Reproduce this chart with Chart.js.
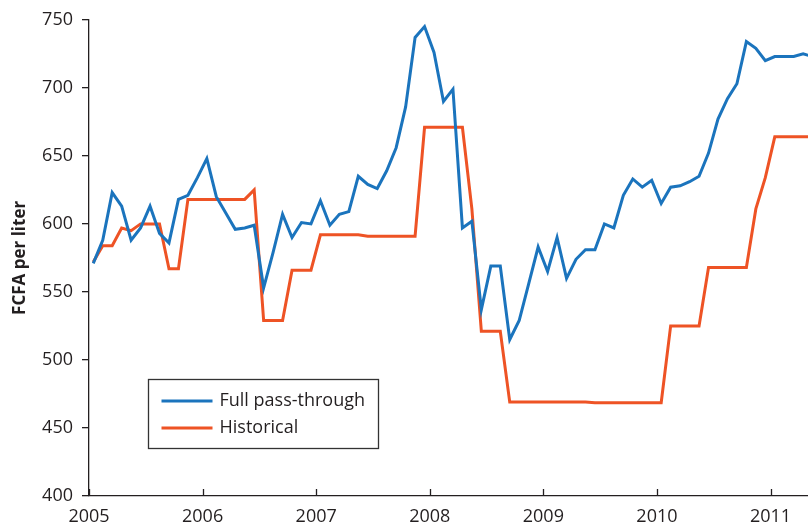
<!DOCTYPE html>
<html>
<head>
<meta charset="utf-8">
<script src="https://cdn.jsdelivr.net/npm/chart.js@4/dist/chart.umd.min.js"></script>
<style>
  html, body { margin: 0; padding: 0; background: #ffffff; }
  #wrap { width: 808px; height: 529px; position: relative; }
</style>
</head>
<body>
<div id="wrap"><canvas id="chart" width="808" height="529"></canvas></div>
<script>
// Monthly pump price of fuel, FCFA per liter, January 2005 onward
const startYear = 2005;

const fullPassThrough = [
  571, 588, 623, 613, 588, 597, 613, 593, 586, 618, 621, 634,
  648, 620, 608, 596, 597, 599, 553, 579, 607, 590, 601, 600,
  617, 599, 607, 609, 635, 629, 626, 639, 656, 686, 737, 745,
  726, 690, 699, 597, 602, 537, 569, 569, 515, 529, 556, 583,
  565, 590, 560, 574, 581, 581, 600, 597, 621, 633, 627, 632,
  615, 627, 628, 631, 635, 652, 677, 692, 703, 734, 729, 720,
  723, 723, 723, 725, 723
];

const historical = [
  572, 584, 584, 597, 595, 600, 600, 600, 567, 567, 618, 618,
  618, 618, 618, 618, 618, 625, 529, 529, 529, 566, 566, 566,
  592, 592, 592, 592, 592, 591, 591, 591, 591, 591, 591, 671,
  671, 671, 671, 671, 611, 521, 521, 521, 469, 469, 469, 469,
  469, 469, 469, 469, 469, 468.5, 468.5, 468.5, 468.5, 468.5, 468.5, 468.5,
  468.5, 525, 525, 525, 525, 568, 568, 568, 568, 568, 611, 634,
  664, 664, 664, 664, 664
];

const seriesNames = ['Full pass-through', 'Historical'];
const seriesColors = ['#1b74bd', '#ee5325'];
const yearTicks = [2005, 2006, 2007, 2008, 2009, 2010, 2011];
const yTicks = [400, 450, 500, 550, 600, 650, 700, 750];

// Each observation sits at the middle of its month on a decimal-year axis
const monthPos = fullPassThrough.map((_, i) => startYear + (i + 0.45) / 12);

const toPoints = values => values.map((v, i) => ({ x: monthPos[i], y: v }));

const axisColor = '#231f20';
const textColor = '#231f20';
const fontFamily = '"Open Sans", "Noto Sans", sans-serif';

// Upward tick marks on the time axis
const innerXTicks = {
  id: 'innerXTicks',
  afterDraw(chart) {
    const x = chart.scales.x;
    const ctx = chart.ctx;
    ctx.save();
    ctx.strokeStyle = axisColor;
    ctx.lineWidth = 1.3;
    ctx.beginPath();
    yearTicks.forEach(v => {
      const px = Math.round(x.getPixelForValue(v)) + 0.5;
      ctx.moveTo(px, x.top);
      ctx.lineTo(px, x.top - 7);
    });
    ctx.stroke();
    ctx.restore();
  }
};

// Boxed legend inside the plot area
const boxedLegend = {
  id: 'boxedLegend',
  afterDraw(chart) {
    const ctx = chart.ctx;
    const x = chart.scales.x, y = chart.scales.y;
    const left = 148.5, top = 379.5, w = 230, h = 69;
    ctx.save();
    ctx.strokeStyle = '#333333';
    ctx.lineWidth = 1.3;
    ctx.strokeRect(left, top, w, h);
    ctx.font = '18px ' + fontFamily;
    ctx.textBaseline = 'middle';
    ctx.fillStyle = textColor;
    chart.data.datasets.forEach((ds, i) => {
      const cy = top + 21.5 + i * 27;
      ctx.strokeStyle = ds.borderColor;
      ctx.lineWidth = 3;
      ctx.beginPath();
      ctx.moveTo(left + 13, cy);
      ctx.lineTo(left + 64, cy);
      ctx.stroke();
      ctx.fillText(ds.label, left + 71, cy);
    });
    ctx.restore();
  }
};

new Chart(document.getElementById('chart'), {
  type: 'line',
  data: {
    datasets: [
      {
        label: seriesNames[0],
        data: toPoints(fullPassThrough),
        borderColor: seriesColors[0],
        borderWidth: 3,
        pointRadius: 0,
        tension: 0,
        fill: false
      },
      {
        label: seriesNames[1],
        data: toPoints(historical),
        borderColor: seriesColors[1],
        borderWidth: 3,
        pointRadius: 0,
        tension: 0,
        fill: false
      }
    ]
  },
  options: {
    responsive: false,
    animation: false,
    parsing: false,
    layout: { padding: { top: 17, right: 0, bottom: 0, left: 0 } },
    plugins: {
      legend: { display: false },
      tooltip: { enabled: false }
    },
    scales: {
      x: {
        type: 'linear',
        min: 2005,
        max: 2011.33,
        afterBuildTicks: s => { s.ticks = yearTicks.map(v => ({ value: v })); },
        afterFit: s => { s.height = 33; },
        grid: { display: true, drawOnChartArea: false, drawTicks: false, color: axisColor },
        border: { display: true, color: axisColor, width: 1.3 },
        ticks: {
          callback: v => String(v),
          color: textColor,
          padding: 10,
          maxRotation: 0,
          font: { family: fontFamily, size: 18 }
        }
      },
      y: {
        type: 'linear',
        min: 400,
        max: 750,
        afterBuildTicks: s => { s.ticks = yTicks.map(v => ({ value: v })); },
        afterFit: s => { s.width = 89; },
        grid: { display: true, drawOnChartArea: false, drawTicks: true, tickLength: 7, color: axisColor, lineWidth: 1.3 },
        border: { display: true, color: axisColor, width: 1.3 },
        ticks: {
          callback: v => String(v),
          color: textColor,
          padding: 9,
          font: { family: fontFamily, size: 18 }
        },
        title: {
          display: true,
          text: 'FCFA per liter',
          color: textColor,
          padding: { top: 10, bottom: 0 },
          font: { family: fontFamily, size: 17, weight: 'bold' }
        }
      }
    }
  },
  plugins: [innerXTicks, boxedLegend]
});
</script>
</body>
</html>
